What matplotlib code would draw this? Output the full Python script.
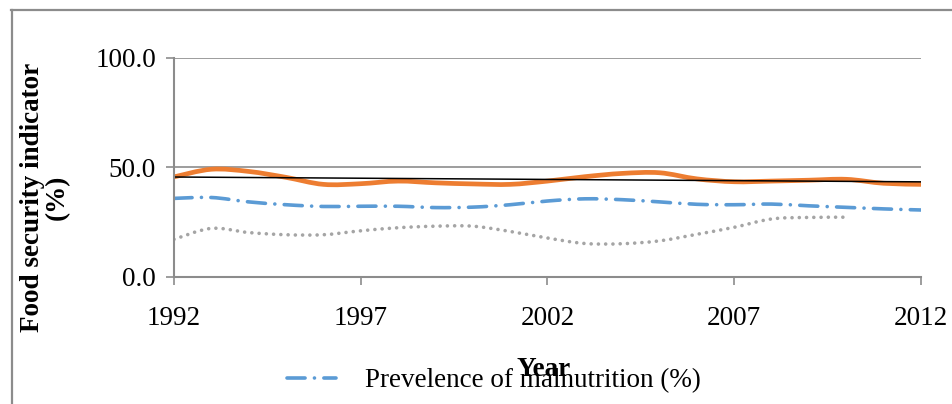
import numpy as np
import matplotlib
matplotlib.use("Agg")
import matplotlib.pyplot as plt
from matplotlib.path import Path
from matplotlib.patches import PathPatch
from matplotlib.lines import Line2D

plt.rcParams['font.family'] = ['Liberation Serif', 'DejaVu Serif']

# data
years = list(range(1992, 2013))
food_insecurity = [45.7, 49.2, 48.2, 45.5, 42.3, 42.6, 43.8, 43.0, 42.5, 42.3, 43.8,
                   45.8, 47.3, 47.6, 44.8, 43.5, 43.8, 44.2, 44.6, 42.8, 42.3]
malnutrition = [35.9, 36.3, 34.3, 33.0, 32.2, 32.3, 32.3, 31.7, 31.9, 33.0, 34.7,
                35.7, 35.3, 34.3, 33.2, 33.0, 33.3, 32.5, 31.8, 31.1, 30.6]
years_dotted = list(range(1992, 2011))
undernourished = [17.2, 22.2, 20.3, 19.3, 19.3, 21.1, 22.5, 23.2, 23.2, 20.8, 17.8,
                  15.3, 15.2, 16.5, 19.5, 22.7, 26.5, 27.2, 27.3]
xticks = [1992, 1997, 2002, 2007, 2012]
yticks = [0, 50, 100]

ORANGE = '#ED7D31'
BLUE = '#5B9BD5'
GRAY = '#A5A5A5'
DASHDOT = (0, (5.0, 2.6, 0.01, 2.6))


def smooth_path(x, y):
    # excel-like smoothed line: catmull-rom drawn as cubic bezier segments
    x = np.asarray(x, float)
    y = np.asarray(y, float)
    pts = np.column_stack([x, y])
    verts = [pts[0]]
    codes = [Path.MOVETO]
    n = len(pts)
    for i in range(n - 1):
        p0 = pts[i - 1] if i > 0 else pts[i]
        p1 = pts[i]
        p2 = pts[i + 1]
        p3 = pts[i + 2] if i + 2 < n else pts[i + 1]
        c1 = p1 + (p2 - p0) / 6.0
        c2 = p2 - (p3 - p1) / 6.0
        verts += [c1, c2, p2]
        codes += [Path.CURVE4] * 3
    return Path(verts, codes)


fig = plt.figure(figsize=(9.52, 4.04), dpi=100)
ax = fig.add_axes([174 / 952, 127 / 404, 747 / 952, 219 / 404])

ax.add_patch(PathPatch(smooth_path(years_dotted, undernourished), fill=False,
                       edgecolor=GRAY, lw=2.6, linestyle=(0, (0.01, 2.0)),
                       capstyle='round'))
ax.add_patch(PathPatch(smooth_path(years, malnutrition), fill=False,
                       edgecolor=BLUE, lw=2.6, linestyle=DASHDOT,
                       capstyle='round'))
ax.add_patch(PathPatch(smooth_path(years, food_insecurity), fill=False,
                       edgecolor=ORANGE, lw=3.4, capstyle='round', joinstyle='round'))

# linear trend of the orange series
k, b = np.polyfit(years, food_insecurity, 1)
ax.plot([years[0], years[-1]], [k * years[0] + b, k * years[-1] + b], color='black', lw=1.1)

ax.set_xlim(1992, 2012)
ax.set_ylim(0, 100)
ax.set_xticks(xticks)
ax.set_yticks(yticks)
ax.set_yticklabels(['%.1f' % v for v in yticks])
ax.yaxis.grid(True, color='#8C8C8C', lw=1.2)
ax.set_axisbelow(True)
for s in ['top', 'right']:
    ax.spines[s].set_visible(False)
for s in ['left', 'bottom']:
    ax.spines[s].set_color('#8C8C8C')
    ax.spines[s].set_linewidth(1.5)
ax.tick_params(axis='both', colors='#8C8C8C', labelcolor='black', labelsize=19.5,
               width=1.2, length=6)
ax.tick_params(axis='x', pad=15)
ax.tick_params(axis='y', pad=7)

fig.text(544 / 952, 1 - 370 / 404, 'Year', ha='center', va='center',
         fontsize=19.5, fontweight='bold')
fig.text(45 / 952, 1 - 197 / 404, 'Food security indicator\n(%)', rotation=90,
         ha='center', va='center', fontsize=19.5, fontweight='bold', linespacing=0.95,
         multialignment='center')

handle = Line2D([], [], color=BLUE, lw=2.6, linestyle=DASHDOT, dash_capstyle='round')
fig.legend(handles=[handle], labels=['Prevelence of malnutrition (%)'],
           loc='center', bbox_to_anchor=(494 / 952, 1 - 381 / 404),
           frameon=False, fontsize=19.5, handlelength=1.8, handletextpad=1.1)

# outer chart frame (only top and left edges are visible)
fig.add_artist(Line2D([11 / 952, 1], [1 - 10 / 404, 1 - 10 / 404],
                      transform=fig.transFigure, color='#8C8C8C', lw=1.6))
fig.add_artist(Line2D([12 / 952, 12 / 952], [0, 1 - 10 / 404],
                      transform=fig.transFigure, color='#8C8C8C', lw=1.6))

fig.savefig('out.png', dpi=100)
